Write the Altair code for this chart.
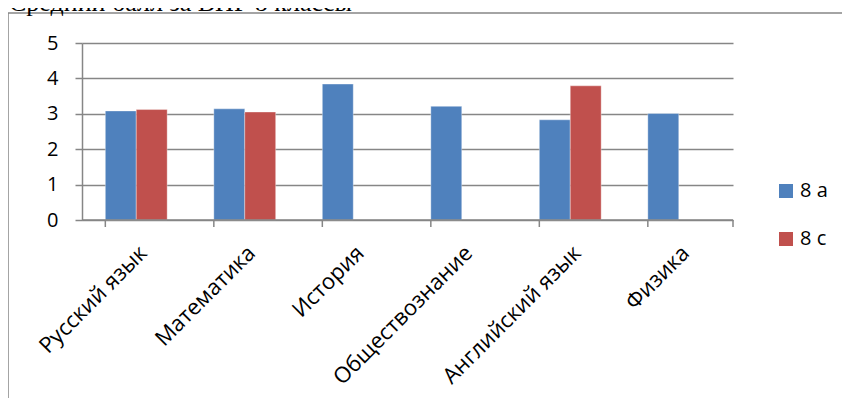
import altair as alt
import pandas as pd

subjects = ["Русский язык", "Математика", "История", "Обществознание", "Английский язык", "Физика"]
series = ["8 a", "8 c"]
vals_8a = [3.08, 3.14, 3.84, 3.21, 2.83, 3.01]
vals_8c = [3.12, 3.05, None, None, 3.79, None]
y_ticks = [0, 1, 2, 3, 4, 5]
title_text = "Средний балл за ВПР  8 классы"

rows = []
for s, a, c in zip(subjects, vals_8a, vals_8c):
    rows.append({"subject": s, "cls": "8 a", "value": a})
    if c is not None:
        rows.append({"subject": s, "cls": "8 c", "value": c})
df = pd.DataFrame(rows)
ticks_df = pd.DataFrame({"subject": subjects})

W, H = 651, 177
FONT = "Open Sans"
GRAY = "#868686"

xscale = alt.Scale(domain=subjects, paddingInner=0.43, paddingOuter=0.215)

bars = alt.Chart(df).mark_bar(stroke="#ffffff", strokeOpacity=0.35, strokeWidth=1).encode(
    x=alt.X("subject:N", scale=xscale, sort=subjects, title=None,
            axis=alt.Axis(labelAngle=-45, labelFontSize=22, labelFont=FONT, labelColor="#000000",
                          ticks=False, domain=False, labelPadding=22, labelLimit=300)),
    xOffset=alt.XOffset("cls:N", scale=alt.Scale(domain=series)),
    y=alt.Y("value:Q", scale=alt.Scale(domain=[0, 5], nice=False), title=None,
            axis=alt.Axis(values=y_ticks, grid=True, gridColor=GRAY, gridWidth=1.5,
                          domainColor=GRAY, domainWidth=1.5, tickColor=GRAY, tickWidth=1.5,
                          tickSize=7, labelFontSize=20, labelFont=FONT, labelColor="#000000",
                          labelPadding=17, format="d")),
    color=alt.Color("cls:N", scale=alt.Scale(domain=series, range=["#4F81BD", "#C0504D"]),
                    legend=alt.Legend(title=None, orient="none", legendX=694, legendY=138,
                                      symbolType="square", symbolSize=196, symbolStrokeWidth=0,
                                      labelFontSize=20, labelFont=FONT, labelColor="#000000",
                                      labelOffset=4, rowPadding=28)),
)

xticks = alt.Chart(ticks_df).mark_rule(color=GRAY, strokeWidth=1.5).encode(
    x=alt.X("subject:N", scale=xscale, sort=subjects, bandPosition=0),
    y=alt.value(H), y2=alt.value(H + 7),
)
last_tick = alt.Chart(ticks_df.head(1)).mark_rule(color=GRAY, strokeWidth=1.5).encode(
    x=alt.value(W), y=alt.value(H), y2=alt.value(H + 7),
)
xdomain = alt.Chart(ticks_df.head(1)).mark_rule(color=GRAY, strokeWidth=1.5).encode(
    x=alt.value(0), x2=alt.value(W), y=alt.value(H),
)

border_left = alt.Chart(ticks_df.head(1)).mark_rule(color=GRAY, strokeWidth=1.5).encode(
    x=alt.value(-74), y=alt.value(-30), y2=alt.value(400),
)
border_top = alt.Chart(ticks_df.head(1)).mark_rule(color=GRAY, strokeWidth=1.5).encode(
    x=alt.value(-74), x2=alt.value(800), y=alt.value(-30),
)
title = alt.Chart(pd.DataFrame({"t": [title_text]})).mark_text(
    font="Liberation Serif", fontSize=26, align="left", baseline="alphabetic", color="#000000"
).encode(text="t:N", x=alt.value(-73), y=alt.value(-32))

chart = alt.layer(bars, xticks, last_tick, xdomain, border_left, border_top, title).properties(
    width=W, height=H,
    padding={"left": 74, "top": 35, "right": 109, "bottom": 178},
    autosize=alt.AutoSizeParams(type="none"),
).configure_view(stroke=None)

chart.save("out.html", embed_options={"renderer": "svg", "actions": False})
